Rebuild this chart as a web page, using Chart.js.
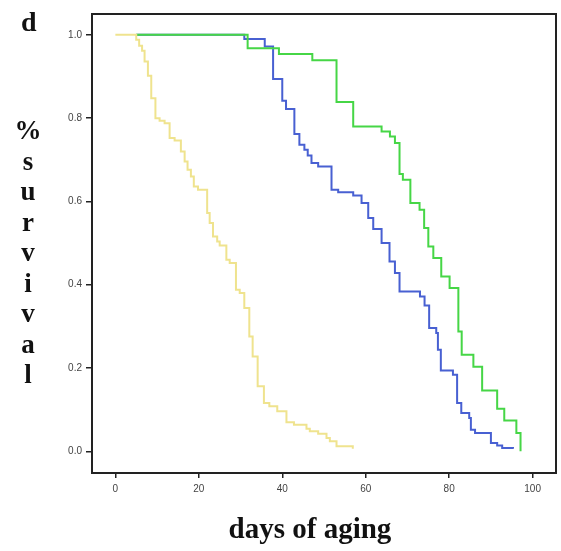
<!DOCTYPE html>
<html><head><meta charset="utf-8">
<script src="https://cdn.jsdelivr.net/npm/chart.js@4.4.0/dist/chart.umd.min.js"></script>
<style>
html,body{margin:0;padding:0;background:#fff;}
#wrap{position:relative;width:561px;height:551px;overflow:hidden;background:#fff;}
#c{position:absolute;left:0;top:0;}
.t{position:absolute;font-family:"Liberation Serif","Times New Roman",serif;font-weight:bold;color:#111;white-space:nowrap;}
</style></head><body>
<div id="wrap">
<canvas id="c" width="561" height="551"></canvas>
<div class="t" id="panel" style="left:21px;top:7px;font-size:28px;line-height:30px;">d</div>
<div class="t" id="ytitle" style="left:12px;width:32px;top:115px;font-size:27px;line-height:30.5px;text-align:center;white-space:normal;">%<br>s<br>u<br>r<br>v<br>i<br>v<br>a<br>l</div>
<div class="t" id="xtitle" style="left:310px;top:513px;font-size:29px;line-height:31px;transform:translateX(-50%);">days of aging</div>
</div>
<script>
// ---- data ----
const xTickValues = [0, 20, 40, 60, 80, 100];
const yTickValues = [0.0, 0.2, 0.4, 0.6, 0.8, 1.0];

const yellowDays = [0, 5.0, 5.7, 6.4, 7.0, 7.8, 8.6, 9.6, 10.6, 11.8, 13.0, 14.2, 15.7, 16.6, 17.3, 18.1, 18.8, 19.8, 22.0, 22.6, 23.4, 24.4, 25.0, 26.6, 27.4, 28.9, 29.8, 30.9, 32.1, 32.9, 34.1, 35.6, 36.9, 38.8, 41.0, 42.8, 45.8, 46.6, 48.6, 50.6, 51.4, 53.0, 56.9];
const yellowSurv = [1.0, 0.988, 0.974, 0.962, 0.936, 0.902, 0.848, 0.800, 0.794, 0.788, 0.752, 0.746, 0.720, 0.696, 0.676, 0.660, 0.636, 0.628, 0.572, 0.548, 0.516, 0.504, 0.494, 0.460, 0.452, 0.388, 0.380, 0.344, 0.276, 0.228, 0.156, 0.116, 0.108, 0.096, 0.070, 0.064, 0.054, 0.048, 0.042, 0.032, 0.024, 0.012, 0.006];

const greenDays = [5.0, 31.7, 39.2, 47.2, 53.0, 57.0, 63.8, 65.8, 67.0, 68.1, 68.9, 70.7, 72.9, 74.0, 75.0, 76.2, 78.1, 80.1, 82.2, 83.0, 85.8, 87.9, 91.5, 93.2, 96.1, 97.1];
const greenSurv = [1.0, 0.968, 0.954, 0.939, 0.839, 0.780, 0.768, 0.756, 0.740, 0.666, 0.652, 0.596, 0.580, 0.536, 0.492, 0.464, 0.420, 0.392, 0.288, 0.232, 0.203, 0.146, 0.102, 0.074, 0.044, 0.0];

const blueDays = [5.0, 30.9, 35.8, 37.8, 40.0, 40.9, 42.9, 44.1, 45.3, 46.1, 47.0, 48.6, 51.8, 53.4, 57.0, 59.0, 60.6, 61.8, 63.8, 65.7, 67.0, 68.1, 73.0, 74.1, 75.2, 76.9, 77.3, 78.0, 80.9, 81.9, 82.9, 84.8, 85.2, 86.2, 90.0, 91.5, 92.7, 95.3];
const blueSurv = [1.0, 0.990, 0.972, 0.894, 0.842, 0.822, 0.762, 0.736, 0.724, 0.710, 0.692, 0.684, 0.628, 0.622, 0.614, 0.596, 0.560, 0.534, 0.500, 0.456, 0.428, 0.384, 0.372, 0.350, 0.296, 0.284, 0.244, 0.194, 0.184, 0.116, 0.092, 0.080, 0.052, 0.044, 0.020, 0.014, 0.008, 0.006];

const toPoints = (days, surv) => days.map((d, i) => ({ x: d, y: surv[i] }));

const framePlugin = {
  id: 'frame',
  afterDraw(chart) {
    const a = chart.chartArea, ctx = chart.ctx;
    ctx.save();
    ctx.strokeStyle = '#222';
    ctx.lineWidth = 2;
    ctx.strokeRect(a.left, a.top, a.right - a.left, a.bottom - a.top);
    ctx.restore();
  }
};

const tickFont = { family: '"Liberation Sans", Arial, sans-serif', size: 10 };

new Chart(document.getElementById('c'), {
  type: 'line',
  data: {
    datasets: [
      { label: 'yellow', data: toPoints(yellowDays, yellowSurv), borderColor: '#efe38e', borderWidth: 2, stepped: 'before', pointRadius: 0, fill: false },
      { label: 'green', data: toPoints(greenDays, greenSurv), borderColor: '#46d646', borderWidth: 2, stepped: 'before', pointRadius: 0, fill: false },
      { label: 'blue', data: toPoints(blueDays, blueSurv), borderColor: '#4860d2', borderWidth: 2, stepped: 'before', pointRadius: 0, fill: false }
    ]
  },
  options: {
    responsive: false,
    devicePixelRatio: 1,
    animation: false,
    layout: { padding: { top: 14, right: 5, left: 0, bottom: 0 } },
    plugins: { legend: { display: false }, tooltip: { enabled: false }, title: { display: false } },
    scales: {
      x: {
        type: 'linear', min: -5.6, max: 105.6,
        afterBuildTicks: s => { s.ticks = xTickValues.map(v => ({ value: v })); },
        afterFit: s => { s.height = 78; },
        ticks: { font: tickFont, color: '#444', padding: 5, maxRotation: 0, autoSkip: false, callback: v => String(v) },
        grid: { drawOnChartArea: false, drawTicks: true, tickLength: 5, color: '#222', lineWidth: 1.5 },
        border: { display: false }
      },
      y: {
        type: 'linear', min: -0.052, max: 1.05,
        afterBuildTicks: s => { s.ticks = yTickValues.map(v => ({ value: v })); },
        afterFit: s => { s.width = 92; },
        ticks: { font: tickFont, color: '#444', padding: 4, autoSkip: false, callback: v => Number(v).toFixed(1) },
        grid: { drawOnChartArea: false, drawTicks: true, tickLength: 6, color: '#222', lineWidth: 1.5 },
        border: { display: false }
      }
    }
  },
  plugins: [framePlugin]
});
</script>
</body></html>
